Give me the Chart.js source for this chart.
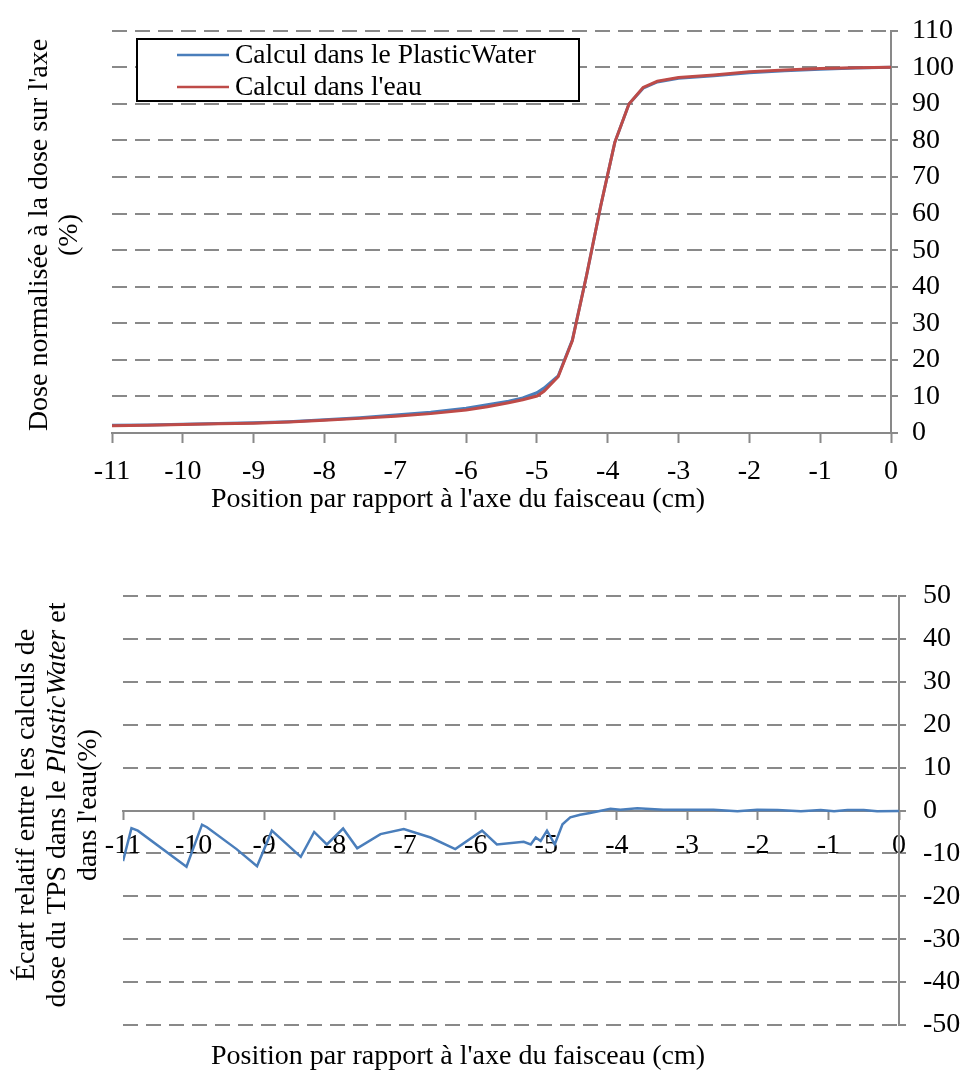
<!DOCTYPE html>
<html>
<head>
<meta charset="utf-8">
<script src="https://cdn.jsdelivr.net/npm/chart.js@4.4.0/dist/chart.umd.min.js"></script>
<style>
    body { margin: 0; background: #fff; }
    #dose_plot { position: absolute; left: 0; top: 0; }
    #diff_plot { position: absolute; left: 0; top: 540px; }
</style>
</head>
<body>
<canvas id="dose_plot" width="964" height="530"></canvas>
<canvas id="diff_plot" width="964" height="537"></canvas>
<script>
// positions (cm) and normalised doses (%)
var posDose = [-11, -10.5, -10, -9.5, -9, -8.5, -8, -7.5, -7, -6.5, -6, -5.7, -5.4, -5.2, -5.0, -4.9, -4.7, -4.5, -4.3, -4.1, -3.9, -3.7, -3.5, -3.3, -3.0, -2.5, -2.0, -1.5, -1.0, -0.5, 0];
var dosePlastic = [2.1, 2.2, 2.4, 2.6, 2.8, 3.1, 3.6, 4.2, 4.9, 5.7, 6.8, 7.7, 8.7, 9.6, 11.0, 12.3, 15.6, 25.4, 43, 62, 79.5, 90, 94.3, 96.0, 97.0, 97.7, 98.5, 99.1, 99.5, 99.8, 100];
var doseWater = [2.0, 2.1, 2.3, 2.5, 2.7, 3.0, 3.5, 4.0, 4.6, 5.3, 6.3, 7.2, 8.3, 9.1, 10.1, 11.4, 15.4, 25.2, 43, 62, 79.5, 90, 94.5, 96.2, 97.2, 97.9, 98.8, 99.3, 99.7, 99.9, 100];

// relative difference PlasticWater / water (%)
var posDiff = [-11, -10.88, -10.79, -10.1, -9.88, -9.81, -9.39, -9.1, -8.89, -8.48, -8.29, -8.11, -7.88, -7.68, -7.35, -7.02, -6.64, -6.29, -5.91, -5.7, -5.32, -5.22, -5.15, -5.08, -4.99, -4.88, -4.77, -4.66, -4.52, -4.38, -4.09, -3.95, -3.71, -3.34, -2.63, -2.29, -2.01, -1.72, -1.39, -1.11, -0.92, -0.73, -0.5, -0.31, 0];
var diff = [-11.8, -4.1, -4.7, -13.1, -3.3, -3.9, -9.0, -13.0, -4.7, -10.8, -5.0, -7.9, -4.2, -8.8, -5.5, -4.3, -6.3, -9.0, -4.7, -7.9, -7.3, -7.9, -6.3, -7.1, -4.7, -7.9, -3.2, -1.6, -1.0, -0.6, 0.4, 0.2, 0.5, 0.2, 0.2, -0.2, 0.2, 0.1, -0.2, 0.1, -0.2, 0.1, 0.1, -0.2, -0.1];

var xTitle = "Position par rapport à l'axe du faisceau (cm)";
var labelPlastic = "Calcul dans le PlasticWater";
var labelWater = "Calcul dans l'eau";

var serif = "'Liberation Serif', 'Times New Roman', serif";
var fontPx = 28;
var gray = '#898989';
var blue = '#4a7ebb';
var red = '#be4b48';

Chart.defaults.font.family = serif;
Chart.defaults.font.size = fontPx;
Chart.defaults.color = '#000';

function toPoints(xs, ys) {
    return xs.map((x, i) => ({ x: x, y: ys[i] }));
}

// legend with a black frame, drawn inside the plot
const boxLegend = {
    id: 'boxLegend',
    afterDatasetsDraw(chart, args, opts) {
        if (!opts.show) return;
        const ctx = chart.ctx;
        ctx.save();
        ctx.fillStyle = '#fff';
        ctx.fillRect(opts.x, opts.y, opts.w, opts.h);
        ctx.lineWidth = 2;
        ctx.strokeStyle = '#000';
        ctx.strokeRect(opts.x, opts.y, opts.w, opts.h);
        ctx.font = '27.5px ' + serif;
        ctx.textBaseline = 'middle';
        ctx.fillStyle = '#000';
        chart.data.datasets.forEach((ds, i) => {
            const cy = opts.y + opts.first + i * opts.row;
            ctx.strokeStyle = ds.borderColor;
            ctx.lineWidth = 2.5;
            ctx.beginPath();
            ctx.moveTo(opts.x + 40, cy);
            ctx.lineTo(opts.x + 92, cy);
            ctx.stroke();
            ctx.fillText(ds.label, opts.x + 98, cy + 1);
        });
        ctx.restore();
    }
};

// axis titles: a rotated block on the left (roman and italic parts) and a line below
const axisTitles = {
    id: 'axisTitles',
    afterDraw(chart, args, opts) {
        const ctx = chart.ctx;
        const fnt = (s) => (s.i ? 'italic ' : '') + fontPx + 'px ' + serif;
        ctx.save();
        ctx.fillStyle = '#000';
        ctx.textBaseline = 'middle';
        if (opts.bottom) {
            ctx.font = fnt({});
            ctx.textAlign = 'center';
            ctx.fillText(opts.bottom.text, opts.bottom.cx, opts.bottom.cy);
            ctx.textAlign = 'left';
        }
        if (opts.lines) {
            ctx.translate(0, opts.cy);
            ctx.rotate(-Math.PI / 2);
            opts.lines.forEach((segs, i) => {
                const px = opts.x0 + i * opts.gap;
                var total = 0;
                segs.forEach(s => { ctx.font = fnt(s); total += ctx.measureText(s.t).width; });
                var cx = -total / 2;
                segs.forEach(s => {
                    ctx.font = fnt(s);
                    ctx.fillText(s.t, cx, px);
                    cx += ctx.measureText(s.t).width;
                });
            });
        }
        ctx.restore();
    }
};

function init_dose_plot(container_name) {
    var ctx = document.getElementById(container_name).getContext('2d');
    const config = {
        type: 'line',
        data: {
            datasets: [
                { label: labelPlastic, data: toPoints(posDose, dosePlastic), borderColor: blue, backgroundColor: blue, borderWidth: 3, pointRadius: 0, tension: 0, order: 1 },
                { label: labelWater, data: toPoints(posDose, doseWater), borderColor: red, backgroundColor: red, borderWidth: 3, pointRadius: 0, tension: 0, order: 0 }
            ]
        },
        options: {
            responsive: false,
            animation: false,
            devicePixelRatio: 1,
            layout: { padding: { left: 112, right: 0, top: 19, bottom: 0 } },
            plugins: {
                legend: { display: false },
                tooltip: { enabled: false },
                boxLegend: { show: true, x: 137, y: 39, w: 442, h: 62, first: 16, row: 32 },
                axisTitles: {
                    cy: 235, x0: 40, gap: 30,
                    lines: [[{ t: "Dose normalisée à la dose sur l'axe" }], [{ t: '(%)' }]],
                    bottom: { text: xTitle, cx: 458, cy: 500 }
                }
            },
            scales: {
                x: {
                    type: 'linear',
                    min: -11, max: 0,
                    ticks: { stepSize: 1, padding: 12, maxRotation: 0, autoSkip: false, maxTicksLimit: 20 },
                    grid: { drawOnChartArea: false, tickLength: 10, tickColor: gray, tickWidth: 2 },
                    border: { color: gray, width: 2 },
                    afterFit: function (scale) { scale.height = 97; }
                },
                y: {
                    position: 'right',
                    min: 0, max: 110,
                    ticks: { stepSize: 10, padding: 14, autoSkip: false, maxTicksLimit: 20 },
                    grid: {
                        color: (c) => c.tick && c.tick.value === 0 ? 'rgba(0,0,0,0)' : gray,
                        lineWidth: 2, tickBorderDash: [],
                        tickColor: gray, tickLength: 7, tickWidth: 2
                    },
                    border: { color: gray, width: 2, dash: [15, 8] },
                    afterFit: function (scale) { scale.width = 73; }
                }
            }
        },
        plugins: [boxLegend, axisTitles]
    };
    return new Chart(ctx, config);
}

function init_diff_plot(container_name) {
    var ctx = document.getElementById(container_name).getContext('2d');
    const config = {
        type: 'line',
        data: {
            datasets: [
                { label: 'Écart', data: toPoints(posDiff, diff), borderColor: blue, backgroundColor: blue, borderWidth: 2.5, pointRadius: 0, tension: 0 }
            ]
        },
        options: {
            responsive: false,
            animation: false,
            devicePixelRatio: 1,
            layout: { padding: { left: 123, right: 0, top: 56, bottom: 0 } },
            plugins: {
                legend: { display: false },
                tooltip: { enabled: false },
                boxLegend: { show: false },
                axisTitles: {
                    cy: 265, x0: 27, gap: 31,
                    lines: [
                        [{ t: 'Écart relatif entre les calculs de' }],
                        [{ t: 'dose du TPS dans le ' }, { t: 'PlasticWater', i: true }, { t: ' et' }],
                        [{ t: "dans l'eau(%)" }]
                    ],
                    bottom: { text: xTitle, cx: 458, cy: 517 }
                }
            },
            scales: {
                x: {
                    type: 'linear',
                    position: { y: 0 },
                    min: -11, max: 0,
                    ticks: { stepSize: 1, padding: 10, maxRotation: 0, autoSkip: false, maxTicksLimit: 20 },
                    grid: { drawOnChartArea: false, tickLength: 8, tickColor: gray, tickWidth: 2 },
                    border: { color: gray, width: 2 }
                },
                xt: {
                    type: 'linear',
                    axis: 'x',
                    position: 'bottom',
                    min: -11, max: 0,
                    ticks: { display: false },
                    grid: { display: false },
                    border: { display: false },
                    afterFit: function (scale) { scale.height = 52; }
                },
                y: {
                    position: 'right',
                    min: -50, max: 50,
                    ticks: { stepSize: 10, padding: 17, autoSkip: false, maxTicksLimit: 20 },
                    grid: {
                        color: (c) => c.tick && c.tick.value === 0 ? 'rgba(0,0,0,0)' : gray,
                        lineWidth: 2, tickBorderDash: [],
                        tickColor: gray, tickLength: 7, tickWidth: 2
                    },
                    border: { color: gray, width: 2, dash: [15, 8] },
                    afterFit: function (scale) { scale.width = 65; }
                }
            }
        },
        plugins: [boxLegend, axisTitles]
    };
    return new Chart(ctx, config);
}

var dose_plot = init_dose_plot('dose_plot');
var diff_plot = init_diff_plot('diff_plot');
</script>
</body>
</html>
